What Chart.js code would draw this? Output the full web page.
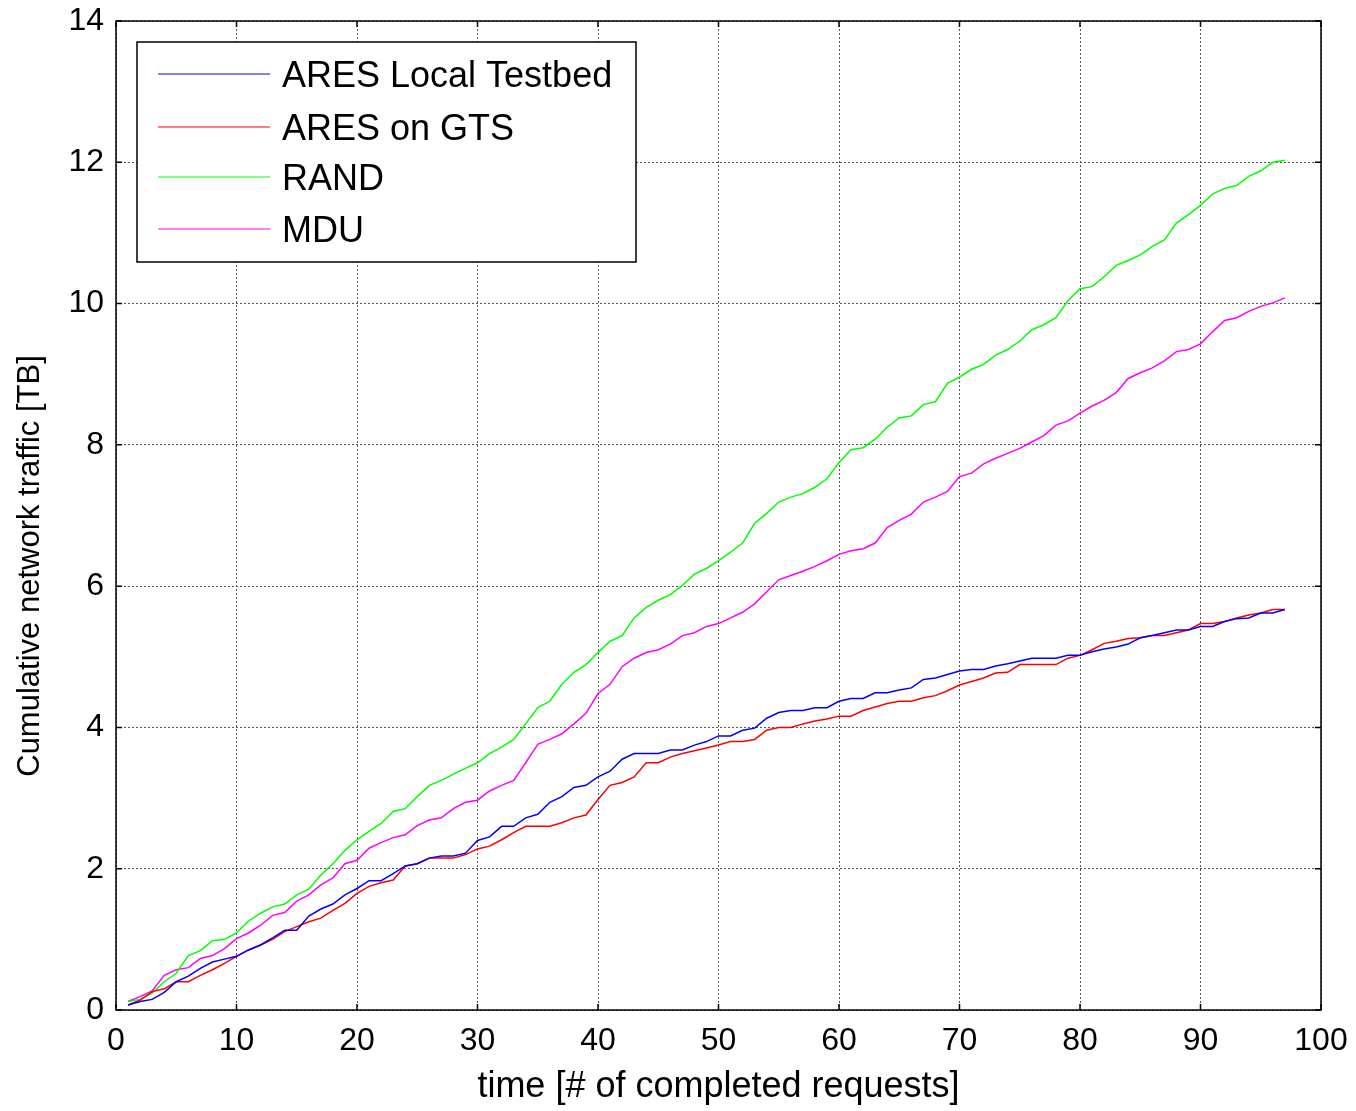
<!DOCTYPE html>
<html>
<head>
<meta charset="utf-8">
<script src="https://cdn.jsdelivr.net/npm/chart.js@4/dist/chart.umd.min.js"></script>
<style>
  html, body { margin: 0; padding: 0; background: #fff; }
  #wrap { width: 1356px; height: 1111px; }
</style>
</head>
<body>
<div id="wrap"><canvas id="c" width="1356" height="1111"></canvas></div>
<script>
// x = number of completed requests
const requests = [
  1,2,3,4,5,6,7,8,9,10,11,12,13,14,15,16,17,18,19,20,
  21,22,23,24,25,26,27,28,29,30,31,32,33,34,35,36,37,38,39,40,
  41,42,43,44,45,46,47,48,49,50,51,52,53,54,55,56,57,58,59,60,
  61,62,63,64,65,66,67,68,69,70,71,72,73,74,75,76,77,78,79,80,
  81,82,83,84,85,86,87,88,89,90,91,92,93,94,95,96,97
];

// cumulative traffic [TB]
const aresLocal = [
  0.07,0.12,0.15,0.25,0.40,0.48,0.59,0.68,0.72,0.76,0.85,0.92,1.02,1.13,1.13,1.33,1.43,1.50,1.63,1.72,
  1.83,1.83,1.93,2.04,2.07,2.15,2.18,2.18,2.22,2.40,2.45,2.60,2.60,2.72,2.77,2.94,3.02,3.15,3.18,3.30,
  3.38,3.55,3.63,3.63,3.63,3.68,3.68,3.75,3.80,3.88,3.88,3.96,3.99,4.13,4.21,4.24,4.24,4.28,4.28,4.37,
  4.41,4.41,4.49,4.49,4.53,4.56,4.68,4.70,4.75,4.80,4.82,4.82,4.87,4.90,4.94,4.98,4.98,4.98,5.02,5.02,
  5.07,5.11,5.14,5.18,5.27,5.30,5.34,5.38,5.38,5.43,5.43,5.50,5.54,5.55,5.62,5.62,5.67
];
const aresGts = [
  0.07,0.14,0.26,0.30,0.40,0.40,0.49,0.57,0.66,0.76,0.85,0.92,1.00,1.11,1.18,1.25,1.30,1.41,1.51,1.65,
  1.75,1.80,1.84,2.04,2.07,2.15,2.15,2.15,2.20,2.28,2.32,2.41,2.51,2.60,2.60,2.60,2.65,2.72,2.76,2.98,
  3.18,3.22,3.30,3.50,3.50,3.58,3.63,3.67,3.71,3.75,3.80,3.80,3.83,3.96,4.00,4.00,4.05,4.09,4.12,4.16,
  4.16,4.24,4.29,4.34,4.37,4.37,4.42,4.45,4.52,4.60,4.65,4.70,4.77,4.78,4.89,4.89,4.89,4.89,4.98,5.02,
  5.10,5.19,5.22,5.26,5.27,5.30,5.30,5.34,5.38,5.47,5.47,5.50,5.55,5.59,5.62,5.67,5.67
];
const rand = [
  0.12,0.15,0.24,0.40,0.52,0.77,0.84,0.98,1.00,1.09,1.26,1.37,1.46,1.50,1.63,1.71,1.91,2.07,2.26,2.41,
  2.53,2.64,2.81,2.85,3.02,3.18,3.25,3.34,3.42,3.50,3.63,3.72,3.83,4.05,4.28,4.37,4.61,4.78,4.89,5.06,
  5.22,5.30,5.55,5.70,5.80,5.88,6.01,6.17,6.25,6.36,6.48,6.61,6.89,7.03,7.19,7.26,7.31,7.40,7.52,7.75,
  7.93,7.96,8.08,8.25,8.38,8.41,8.57,8.61,8.87,8.96,9.07,9.14,9.27,9.35,9.47,9.63,9.70,9.80,10.04,10.21,
  10.24,10.38,10.54,10.61,10.69,10.81,10.90,11.14,11.26,11.39,11.55,11.63,11.67,11.80,11.88,12.00,12.03
];
const mdu = [
  0.12,0.19,0.27,0.49,0.57,0.60,0.73,0.77,0.87,1.01,1.09,1.20,1.34,1.38,1.54,1.63,1.77,1.87,2.07,2.12,
  2.29,2.37,2.44,2.48,2.61,2.69,2.72,2.85,2.94,2.97,3.10,3.18,3.25,3.50,3.76,3.83,3.91,4.05,4.20,4.48,
  4.61,4.86,4.98,5.06,5.10,5.18,5.30,5.34,5.43,5.47,5.55,5.63,5.75,5.92,6.09,6.15,6.21,6.28,6.36,6.45,
  6.50,6.53,6.61,6.83,6.93,7.02,7.19,7.26,7.34,7.55,7.60,7.73,7.81,7.88,7.95,8.04,8.13,8.28,8.34,8.45,
  8.55,8.63,8.74,8.94,9.02,9.09,9.19,9.32,9.35,9.43,9.60,9.76,9.80,9.89,9.96,10.01,10.08
];

const seriesNames = ['ARES Local Testbed', 'ARES on GTS', 'RAND', 'MDU'];
const seriesColors = ['#0000ff', '#ff0000', '#00ff00', '#ff00ff'];
const seriesData = [aresLocal, aresGts, rand, mdu];
const yTitle = 'Cumulative network traffic [TB]';

const FONT = "'Liberation Sans', Arial, sans-serif";

const toPoints = vals => vals.map((v, i) => ({ x: requests[i], y: v }));

// matlab style box with inward ticks, y label and legend box inside the axes
const matlabBox = {
  id: 'matlabBox',
  afterDraw(chart) {
    const { ctx, chartArea: a, scales } = chart;
    ctx.save();
    ctx.strokeStyle = '#000';
    ctx.lineWidth = 1.5;
    ctx.strokeRect(a.left, a.top, a.right - a.left, a.bottom - a.top);

    const tl = 6;
    ctx.beginPath();
    scales.x.ticks.forEach(t => {
      const px = scales.x.getPixelForValue(t.value);
      ctx.moveTo(px, a.bottom); ctx.lineTo(px, a.bottom - tl);
      ctx.moveTo(px, a.top); ctx.lineTo(px, a.top + tl);
    });
    scales.y.ticks.forEach(t => {
      const py = scales.y.getPixelForValue(t.value);
      ctx.moveTo(a.left, py); ctx.lineTo(a.left + tl, py);
      ctx.moveTo(a.right, py); ctx.lineTo(a.right - tl, py);
    });
    ctx.stroke();

    // y axis label (matlab puts it a bit below centre here)
    ctx.save();
    ctx.translate(30, 566);
    ctx.rotate(-Math.PI / 2);
    ctx.font = '31px ' + FONT;
    ctx.fillStyle = '#000';
    ctx.textAlign = 'center';
    ctx.textBaseline = 'middle';
    ctx.fillText(yTitle, 0, 0);
    ctx.restore();

    // legend
    const L = { x: 137, y: 42, w: 499, h: 220 };
    ctx.fillStyle = '#fff';
    ctx.fillRect(L.x, L.y, L.w, L.h);
    ctx.strokeStyle = '#000';
    ctx.lineWidth = 1.5;
    ctx.strokeRect(L.x, L.y, L.w, L.h);
    const rows = [74, 127, 177, 229];
    ctx.font = '36px ' + FONT;
    ctx.textBaseline = 'middle';
    ctx.textAlign = 'left';
    chart.data.datasets.forEach((ds, i) => {
      ctx.strokeStyle = ds.borderColor;
      ctx.lineWidth = 1.2;
      ctx.beginPath();
      ctx.moveTo(158, rows[i]); ctx.lineTo(270, rows[i]);
      ctx.stroke();
      ctx.fillStyle = '#000';
      ctx.fillText(ds.label, 282, rows[i] + 3);
    });
    ctx.restore();
  }
};

new Chart(document.getElementById('c'), {
  type: 'line',
  data: {
    datasets: seriesNames.map((name, i) => ({
      label: name,
      data: toPoints(seriesData[i]),
      borderColor: seriesColors[i],
      backgroundColor: seriesColors[i],
      borderWidth: 1.5,
      pointRadius: 0,
      tension: 0,
      fill: false
    }))
  },
  options: {
    responsive: false,
    animation: false,
    layout: { padding: { top: 21, right: 35, left: 0, bottom: 0 } },
    plugins: {
      legend: { display: false },
      tooltip: { enabled: false }
    },
    scales: {
      x: {
        type: 'linear',
        min: 0, max: 100,
        ticks: { stepSize: 10, color: '#000', font: { family: FONT, size: 32 }, padding: 12, maxRotation: 0 },
        grid: { color: '#555', lineWidth: 1, drawTicks: false },
        border: { display: false, dash: [2, 2] },
        title: { display: true, text: 'time [# of completed requests]', color: '#000',
                 font: { family: FONT, size: 36 }, padding: { top: 0, bottom: 2 } },
        afterFit(s) { s.height = 101; s.paddingLeft = 0; s.paddingRight = 0; }
      },
      y: {
        min: 0, max: 14,
        ticks: { stepSize: 2, color: '#000', font: { family: FONT, size: 32 }, padding: 12 },
        grid: { color: '#555', lineWidth: 1, drawTicks: false },
        border: { display: false, dash: [2, 2] },
        title: { display: false },
        afterFit(s) { s.width = 116; s.paddingTop = 0; s.paddingBottom = 0; }
      }
    }
  },
  plugins: [matlabBox]
});
</script>
</body>
</html>
